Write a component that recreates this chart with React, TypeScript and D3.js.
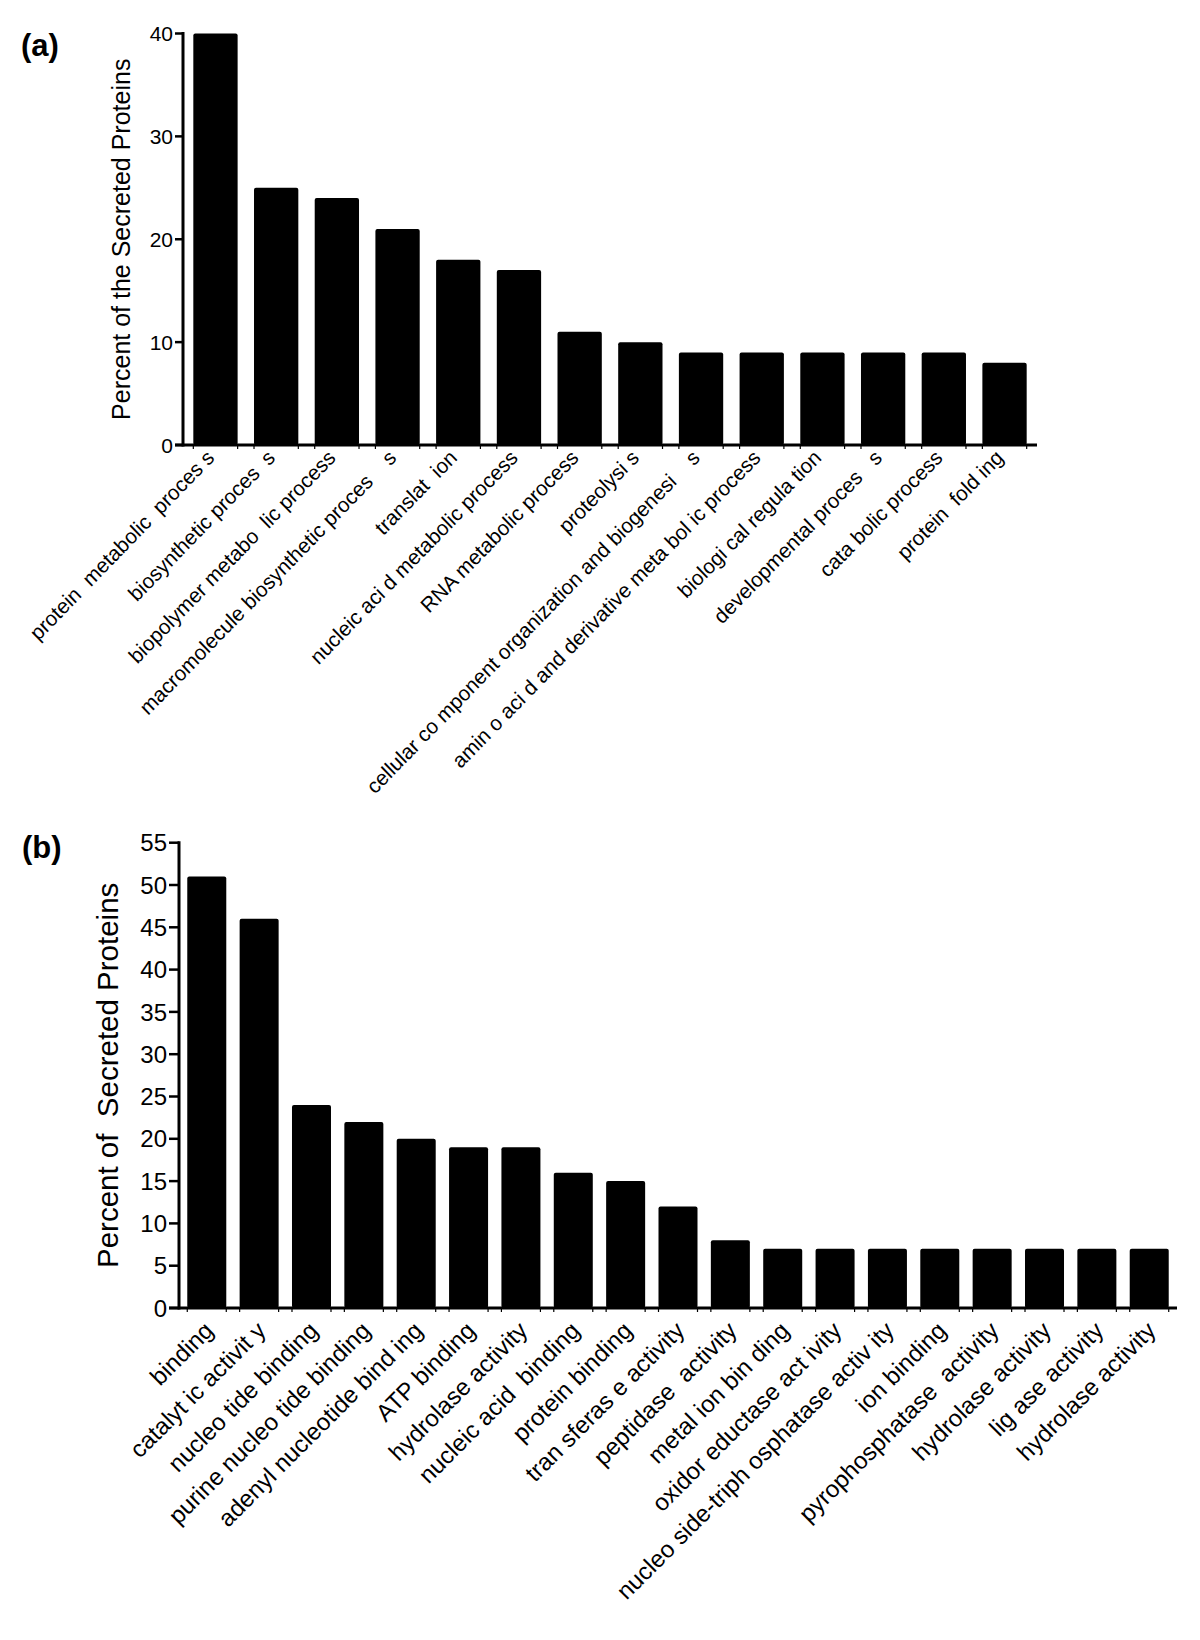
import React from "react";
import * as d3 from "d3";

const catsA = [
  "protein  metabolic  proces s",
  "biosynthetic proces  s",
  "biopolymer metabo  lic process",
  "macromolecule biosynthetic proces    s",
  "translat  ion",
  "nucleic aci d metabolic process",
  "RNA metabolic process",
  "proteolysi s",
  "cellular co mponent organization and biogenesi    s",
  "amin o aci d and derivative meta bol ic process",
  "biologi cal regula tion",
  "developmental proces   s",
  "cata bolic process",
  "protein  fold ing",
];
const valsA = [40, 25, 24, 21, 18, 17, 11, 10, 9, 9, 9, 9, 9, 8];
const ticksA = [0, 10, 20, 30, 40];

const catsB = [
  "binding",
  "catalyt ic activit y",
  "nucleo tide binding",
  "purine nucleo tide binding",
  "adenyl nucleotide bind ing",
  "ATP binding",
  "hydrolase activity",
  "nucleic acid  binding",
  "protein binding",
  "tran sferas e activity",
  "peptidase  activity",
  "metal ion bin ding",
  "oxidor eductase act ivity",
  "nucleo side-triph osphatase activ ity",
  "ion binding",
  "pyrophosphatase  activity",
  "hydrolase activity",
  "lig ase activity",
  "hydrolase activity",
];
const valsB = [51, 46, 24, 22, 20, 19, 19, 16, 15, 12, 8, 7, 7, 7, 7, 7, 7, 7, 7];
const ticksB = [0, 5, 10, 15, 20, 25, 30, 35, 40, 45, 50, 55];

const FONT = "'Liberation Sans', Arial, Helvetica, sans-serif";

type PanelProps = {
  cats: string[];
  vals: number[];
  ticks: number[];
  x0: number;
  x1: number;
  yTop: number;
  yBottom: number;
  yMax: number;
  padInner: number;
  padOuter: number;
  tickLen: number;
  tickFont: number;
  labelFont: number;
  labelDx: number;
  labelDy: number;
  labelStretch: number;
  yLabel: string;
  yLabelFont: number;
  yLabelX: number;
  panelLetter: string;
  letterX: number;
  letterY: number;
};

function Panel(p: PanelProps) {
  const x = d3
    .scaleBand<string>()
    .domain(p.cats.map((_, i) => String(i)))
    .range([p.x0, p.x1])
    .paddingInner(p.padInner)
    .paddingOuter(p.padOuter);
  const y = d3.scaleLinear().domain([0, p.yMax]).range([p.yBottom, p.yTop]);
  const bw = x.bandwidth();
  const yMid = (p.yTop + p.yBottom) / 2;
  return (
    <g>
      <text
        x={p.letterX}
        y={p.letterY}
        fontFamily={FONT}
        fontWeight="bold"
        fontSize={31}
      >
        {p.panelLetter}
      </text>
      {p.vals.map((v, i) => (
        <rect
          key={"b" + i}
          x={x(String(i))}
          y={y(v)}
          width={bw}
          height={y(0) - y(v)}
          rx={2}
          ry={2}
          fill="#000"
        />
      ))}
      <line
        x1={p.x0}
        x2={p.x0}
        y1={y(p.yMax) - 1.5}
        y2={y(0) + 1.5}
        stroke="#000"
        strokeWidth={3}
      />
      {p.ticks.map((t) => (
        <g key={"t" + t}>
          <line
            x1={p.x0 - p.tickLen}
            x2={p.x0}
            y1={y(t)}
            y2={y(t)}
            stroke="#000"
            strokeWidth={2.5}
          />
          <text
            x={p.x0 - p.tickLen - 2}
            y={y(t)}
            dy="0.36em"
            textAnchor="end"
            fontFamily={FONT}
            fontSize={p.tickFont}
            fill="#000"
          >
            {t}
          </text>
        </g>
      ))}
      <line
        x1={p.x0 - p.tickLen}
        x2={p.x1}
        y1={y(0)}
        y2={y(0)}
        stroke="#000"
        strokeWidth={3}
      />
      {p.cats.map((_, i) => {
        const l = x(String(i)) as number;
        return (
          <g key={"m" + i}>
            <line x1={l} x2={l} y1={y(0)} y2={y(0) + 4} stroke="#000" strokeWidth={1.2} />
            <line x1={l + bw} x2={l + bw} y1={y(0)} y2={y(0) + 4} stroke="#000" strokeWidth={1.2} />
          </g>
        );
      })}
      {p.cats.map((c, i) => {
        const cx = (x(String(i)) as number) + bw / 2 + p.labelDx;
        const cy = y(0) + p.labelDy;
        return (
          <text
            key={"l" + i}
            x={0}
            y={0}
            transform={`translate(${cx}, ${cy}) scale(1, ${p.labelStretch}) rotate(-45)`}
            textAnchor="end"
            fontFamily={FONT}
            fontSize={p.labelFont}
            fill="#000"
            style={{ whiteSpace: "pre" }}
          >
            {c}
          </text>
        );
      })}
      <text
        x={p.yLabelX}
        y={yMid}
        transform={`rotate(-90, ${p.yLabelX}, ${yMid})`}
        textAnchor="middle"
        fontFamily={FONT}
        fontSize={p.yLabelFont}
        fill="#000"
        style={{ whiteSpace: "pre" }}
      >
        {p.yLabel}
      </text>
    </g>
  );
}

export default function App() {
  return (
    <svg
      width={1200}
      height={1640}
      viewBox="0 0 1200 1640"
      style={{ position: "absolute", left: 0, top: 0, background: "#fff" }}
    >
      <rect x={0} y={0} width={1200} height={1640} fill="#fff" />
      <Panel
        cats={catsA}
        vals={valsA}
        ticks={ticksA}
        x0={183}
        x1={1037}
        yTop={33.5}
        yBottom={445}
        yMax={40}
        padInner={0.27}
        padOuter={0.17}
        tickLen={8}
        tickFont={21}
        labelFont={20.5}
        labelDx={0}
        labelDy={14}
        labelStretch={1.03}
        yLabel="Percent of the Secreted Proteins"
        yLabelFont={25}
        yLabelX={130}
        panelLetter="(a)"
        letterX={21}
        letterY={56}
      />
      <Panel
        cats={catsB}
        vals={valsB}
        ticks={ticksB}
        x0={179}
        x1={1177}
        yTop={842.7}
        yBottom={1308}
        yMax={55}
        padInner={0.255}
        padOuter={0.158}
        tickLen={10}
        tickFont={24}
        labelFont={24}
        labelDx={8}
        labelDy={24}
        labelStretch={1}
        yLabel="Percent of  Secreted Proteins"
        yLabelFont={29.5}
        yLabelX={118}
        panelLetter="(b)"
        letterX={22}
        letterY={858}
      />
    </svg>
  );
}
